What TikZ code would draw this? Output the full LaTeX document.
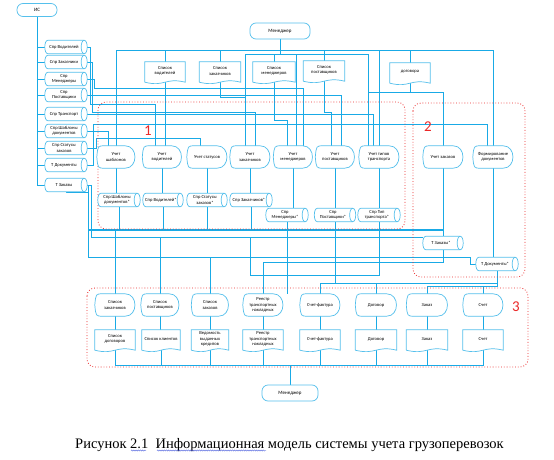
\documentclass[tikz,border=0pt]{standalone}
\usepackage{fontspec}
\usetikzlibrary{backgrounds,decorations.pathmorphing}
\setmainfont{Liberation Serif}
\newfontfamily\nodefont{Carlito}
\definecolor{lc}{RGB}{25,170,230}
\definecolor{sc}{RGB}{85,192,236}
\definecolor{rc}{RGB}{235,40,40}
\definecolor{wv}{RGB}{70,90,220}
\newcommand\Doc[5]{%
 \node[txt,minimum width=#4,minimum height=20] (#1) at (#2,#3) {};
 \draw[shp] (#1.south west) -- (#1.north west) -- (#1.north east) -- (#1.south east)
   .. controls ([yshift=5pt]#1.south) and ([yshift=-5pt]#1.south) .. (#1.south west);
 \node[txt] at ([yshift=1pt]#1.center) {#5};}
\newcommand\Disp[5]{%
 \node[txt,minimum width=#4,minimum height=22] (#1) at (#2,#3) {};
 \draw[shp] (#1.west) .. controls ([xshift=1pt]#1.north west) .. ([xshift=8pt]#1.north west)
   -- ([xshift=-10pt]#1.north east)
   .. controls ([xshift=3pt]#1.north east) and ([xshift=3pt]#1.south east) .. ([xshift=-10pt]#1.south east)
   -- ([xshift=8pt]#1.south west) .. controls ([xshift=1pt]#1.south west) .. (#1.west) -- cycle;
 \node[txt] at (#1.center) {#5};}
\newcommand\Cyl[5]{%
 \node[txt,minimum width=#4,minimum height=13] (#1) at (#2,#3) {};
 \draw[shp] ([xshift=3pt]#1.north west) -- ([xshift=-3pt]#1.north east)
   .. controls ([xshift=1pt]#1.north east) and ([xshift=1pt]#1.south east) .. ([xshift=-3pt]#1.south east)
   -- ([xshift=3pt]#1.south west)
   .. controls ([xshift=-1pt]#1.south west) and ([xshift=-1pt]#1.north west) .. cycle;
 \draw[shp,fill=none] ([xshift=-3pt]#1.north east) .. controls ([xshift=-7pt]#1.north east) and ([xshift=-7pt]#1.south east) .. ([xshift=-3pt]#1.south east);
 \node[txt] at ([xshift=-2pt]#1.center) {#5};}
\begin{document}
\begin{tikzpicture}[x=1pt,y=-1pt,
 ln/.style={draw=lc,line width=0.75pt},
 thk/.style={draw=lc,line width=1.5pt},
 shp/.style={draw=sc,line width=0.7pt,fill=white},
 txt/.style={inner sep=0pt,align=center,font=\nodefont\fontsize{4.6}{5.2}\selectfont},
 term/.style={txt,draw=sc,fill=white,line width=0.7pt,rounded corners=6pt,font=\nodefont\fontsize{5}{6}\selectfont},
 reg/.style={draw=rc,dotted,line width=0.8pt,rounded corners=8pt},
 rlab/.style={text=rc,font=\nodefont\fontsize{15}{15}\selectfont},
 wavy/.style={draw=wv,line width=0.35pt,decorate,decoration={snake,amplitude=0.6pt,segment length=2.2pt}}]
\useasboundingbox (0,0) rectangle (554,460);

% terminals
\node[term,minimum width=40,minimum height=13] (is) at (37,10) {ИС};
\node[term,minimum width=60,minimum height=16] (mgrA) at (280,31) {Менеджер};
\node[term,minimum width=56,minimum height=16] (mgrB) at (290,393) {Менеджер};

% bus coordinates
\coordinate (tb) at (280,50);
\coordinate (tb2) at (280,54);
\coordinate (b0) at (443,230);
\coordinate (bb) at (290,365);

% left cylinders
\Cyl{s1}{66}{47}{42}{Спр Водителей}
\Cyl{s2}{66}{62}{42}{Спр Заказчики}
\Cyl{s3}{66}{79}{42}{Спр\\Менеджеры}
\Cyl{s4}{66}{95}{42}{Спр\\Поставщики}
\Cyl{s5}{66}{114}{42}{Спр Транспорт}
\Cyl{s6}{66}{131}{42}{Спр Шаблоны\\документов}
\Cyl{s7}{66}{148}{42}{Спр Статусы\\заказов}
\Cyl{s8}{66}{165}{42}{Т Документы}
\Cyl{s9}{66}{185}{42}{Т Заказы}

% top documents
\Doc{d1}{165}{72}{40}{Список\\водителей}
\Doc{d2}{220}{72}{41}{Список\\заказчиков}
\Doc{d3}{274}{72}{42}{Список\\менеджеров}
\Doc{d4}{324}{71}{41}{Список\\поставщиков}
\Doc{d5}{410}{73}{40}{договора}

% region 1 / 2 processes
\Disp{p1}{116}{157}{38}{Учет\\шаблонов}
\Disp{p2}{162}{157}{39}{Учет\\водителей}
\Disp{p3}{207}{157}{40}{Учет статусов}
\Disp{p4}{250}{157}{40}{Учет\\заказчиков}
\Disp{p5}{293}{157}{39}{Учет\\менеджеров}
\Disp{p6}{335}{157}{39}{Учет\\поставщиков}
\Disp{p7}{379}{157}{40}{Учет типов\\транспорта}
\Disp{p8}{443}{157}{40}{Учет заказов}
\Disp{p9}{493}{157}{40}{Формирование\\документов}

% output cylinders
\Cyl{c1}{119}{200}{42}{Спр Шаблоны\\документов*}
\Cyl{c2}{163}{200}{40}{Спр Водителей*}
\Cyl{c3}{207}{200}{40}{Спр Статусы\\заказов*}
\Cyl{c4}{251}{200}{42}{Спр Заказчиков*}
\Cyl{c5}{287}{215}{42}{Спр\\Менеджеры*}
\Cyl{c6}{335}{215}{41}{Спр\\Поставщики*}
\Cyl{c7}{379}{215}{42}{Спр Тип\\транспорта*}
\Cyl{c8}{443}{243}{40}{Т Заказы*}
\Cyl{c9}{497}{264}{42}{Т Документы*}

% region 3 processes
\Disp{q1}{115}{305}{40}{Список\\заказчиков}
\Disp{q2}{160}{305}{38}{Список\\поставщиков}
\Disp{q3}{210}{305}{37}{Список\\заказов}
\Disp{q4}{263}{305}{40}{Реестр\\транспортных\\накладных}
\Disp{q5}{320}{305}{40}{Счет-фактура}
\Disp{q6}{376}{305}{41}{Договор}
\Disp{q7}{427}{305}{41}{Заказ}
\Disp{q8}{483}{305}{40}{Счет}

% region 3 documents
\Doc{e1}{115}{340}{40}{Список\\договоров}
\Doc{e2}{161}{340}{38}{Список клиентов}
\Doc{e3}{210}{340}{37}{Ведомость\\выданных\\кредитов}
\Doc{e4}{263}{340}{40}{Реестр\\транспортных\\накладных}
\Doc{e5}{320}{340}{40}{Счет-фактура}
\Doc{e6}{376}{340}{41}{Договор}
\Doc{e7}{427}{340}{41}{Заказ}
\Doc{e8}{483}{340}{40}{Счет}

% caption
\node[anchor=base west,inner sep=0pt,font=\fontsize{14.5}{16}\selectfont] (cap) at (75,448) {Рисунок 2.1\ \ Информационная модель системы учета грузоперевозок};
\draw[wavy] (131,450.5) -- (146,450.5);
\draw[wavy] (157,450.5) -- (266,450.5);

% ---------- connectors and regions, behind the shapes
\begin{scope}[on background layer]
\fill[white] (0,0) rectangle (554,460);
% ИС trunk
\foreach \i in {1,...,9} \draw[ln] (is.south) |- (s\i.west);
% Менеджер buses
\draw[ln] (mgrA.south) -- (tb2);
\draw[ln] (p1.north) |- (tb);
\draw[ln] (p9.north) |- (tb);
\foreach \n in {d1,d2,d4,d5,p7} \draw[ln] (\n.north) -- (\n.north |- tb);
\draw[ln] ([xshift=-5pt]p4.north) |- (tb2);
\draw[ln] ([xshift=-11pt]p7.north) |- (tb2);
\draw[ln] ([xshift=3pt]p5.north) |- (tb2);
\draw[ln] (d3.north) -- (d3.north |- tb2);
% documents into processes
\draw[ln] (d1.south) -- (d1.south |- p2.north);
\draw[ln] (d2.south) |- (245,97);
\draw[ln] (d3.south) |- (287,120) -- ([xshift=-6pt]p5.north);
\draw[ln] (d4.south) |- (331,112) -- ([xshift=-4pt]p6.north);
\draw[ln] (d5.south) |- (443,92) -- (p8.north);
\draw[ln] (368,92) -- (410,92);
% directories into processes
\draw[ln] (s1.east) -- (90,47) |- (155,104) -- ([xshift=-7pt]p2.north);
\draw[ln] (s2.east) -- (92,62) |- (255,112) -- ([xshift=5pt]p4.north);
\draw[ln] (s3.east) -- (94,79) |- (303,88) -- ([xshift=10pt]p5.north);
\draw[ln] (s4.east) -| ([xshift=6pt]p6.north);
\draw[ln] (s5.east) -| ([xshift=-6pt]p7.north);
\draw[ln] (s6.east) -| ([xshift=-8pt]p1.north);
\draw[ln] (s7.east) -- (96,148) |- (200,138) -- ([xshift=-7pt]p3.north);
\draw[ln] (s8.east) -- (93,165) |- (487,124) -- ([xshift=-6pt]p9.north);
\draw[ln] (s9.east) -- (91,185) |- ([yshift=6pt]c8.west);
\draw[ln] (s9.east) -- (88,185) |- (470,257) |- (c9.west);
\draw[ln] (s9.south) |- (88,192);
% processes to their stores
\foreach \a/\b in {p1/c1,p2/c2,p3/c3,p4/c4,p5/c5,p6/c6,p7/c7,p8/c8,p9/c9}
  \draw[ln] (\a.south) -- (\a.south |- \b.north);
% stores bus
\draw[thk] (88,230) -- (b0);
\foreach \c in {c1,c2,c3,c4,c5,c6,c7} \draw[ln] (\c.south) -- (\c.south |- b0);
% stores into region 3
\draw[ln] (q1.north) -- (q1.north |- b0);
\draw[ln] (q2.north) -- (160,237);
\draw[ln] (q3.north) -- (210,257);
\draw[ln] (c8.south) |- (263,262) -- (q4.north);
\draw[ln] (c9.south) |- (320,283) -- (q5.north);
\draw[ln] (q6.north) -- (376,283);
\draw[ln] (q7.north) -- (427,286) -- (483,286) -- (q8.north);
\draw[ln] (c9.south) |- (483,286);
\draw[ln] (c7.south) |- (250,275) -- (250,237);
\draw[ln] (c6.south) -- (335,283);
\draw[ln] (c5.south) -- (c5.south |- q5.north);
% region 3 internals
\foreach \i in {1,...,8} \draw[ln] (q\i.south) -- (q\i.south |- e\i.north);
\foreach \i in {1,...,8} \draw[ln] (e\i.south) |- (bb);
\draw[ln] (bb) -- (mgrB.north);
% regions
\draw[reg] (98,102) rectangle (405,229);
\draw[reg] (413,103) rectangle (525,277);
\draw[reg] (87,288) rectangle (528,367);
\end{scope}
\node[rlab] (l1) at (148,131) {1};
\node[rlab] (l2) at (428,127) {2};
\node[rlab] (l3) at (516,307) {3};
\end{tikzpicture}
\end{document}
